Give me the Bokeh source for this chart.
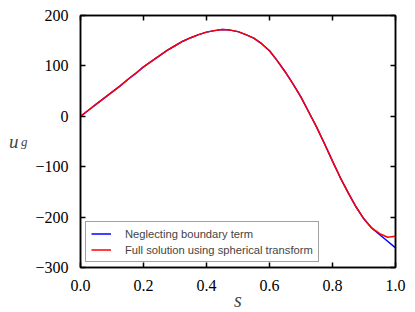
from bokeh.plotting import figure
from bokeh.models import LinearAxis, FixedTicker, Range1d, Legend, LegendItem
from bokeh.embed import file_html
from bokeh.resources import INLINE

s_vals = [0.0, 0.025, 0.05, 0.075, 0.1, 0.125, 0.15, 0.175, 0.2, 0.225,
          0.25, 0.275, 0.3, 0.325, 0.35, 0.375, 0.4, 0.425, 0.45, 0.475,
          0.5, 0.525, 0.55, 0.575, 0.6, 0.625, 0.65, 0.675, 0.7, 0.725,
          0.75, 0.775, 0.8, 0.825, 0.85, 0.875, 0.9, 0.925, 0.95, 0.975, 1.0]
u_neglect = [0, 12, 24, 36, 48, 60, 73, 85, 98, 109,
             120, 131, 140, 149, 156, 162, 167, 170, 172, 171,
             168, 162, 155, 144, 130, 110, 88, 64, 38, 8,
             -22, -55, -89, -122, -152, -180, -204, -222, -235, -248, -261]
u_full = [0, 12, 24, 36, 48, 60, 73, 85, 98, 109,
          120, 131, 140, 149, 156, 162, 167, 170, 172, 171,
          168, 162, 155, 144, 130, 110, 88, 64, 38, 8,
          -22, -55, -89, -122, -152, -180, -204, -222, -233, -240, -238]

x_ticks = [0.0, 0.2, 0.4, 0.6, 0.8, 1.0]
x_tick_labels = ["0.0", "0.2", "0.4", "0.6", "0.8", "1.0"]
y_ticks = [-300, -200, -100, 0, 100, 200]
y_tick_labels = ["\u2212300", "\u2212200", "\u2212100", "0", "100", "200"]

x_label = "s"
y_label_main = "u"
y_label_sub = "g"

series_names = ["Neglecting boundary term", "Full solution using spherical transform"]
series_colors = ["#0000ff", "#ff0000"]

p = figure(frame_width=315, frame_height=252, output_backend="svg",
           toolbar_location=None, x_range=Range1d(0, 1), y_range=Range1d(-300, 200),
           min_border_left=80, min_border_right=20, min_border_top=15, min_border_bottom=44,
           x_axis_location=None, y_axis_location=None)
p.background_fill_color = "white"
p.border_fill_color = "white"
p.outline_line_color = "black"
p.outline_line_width = 1.5
p.grid.visible = False

tick_font = "Liberation Serif"

def style_axis(ax, ticks, labels, show):
    ax.ticker = FixedTicker(ticks=ticks)
    ax.major_label_overrides = {t: l for t, l in zip(ticks, labels)}
    ax.minor_tick_line_color = None
    ax.major_tick_in = 5
    ax.major_tick_out = 0
    ax.major_tick_line_width = 1.5
    ax.axis_line_width = 1.5
    ax.major_label_text_font = tick_font
    ax.major_label_text_font_size = "16px"
    ax.major_label_text_color = "black"
    ax.major_label_standoff = 12
    if not show:
        ax.major_label_text_alpha = 0
        ax.major_label_text_font_size = "1px"
        ax.major_label_standoff = 0

xb = LinearAxis(); style_axis(xb, x_ticks, x_tick_labels, True)
xb.axis_label = x_label
xb.axis_label_text_font = "Liberation Serif"
xb.axis_label_text_font_style = "italic"
xb.axis_label_text_font_size = "20px"
xb.axis_label_standoff = -5

yl = LinearAxis(); style_axis(yl, y_ticks, y_tick_labels, True)
yl.axis_label = y_label_sub
yl.axis_label_orientation = "horizontal"
yl.axis_label_text_font = "Liberation Serif"
yl.axis_label_text_font_style = "italic"
yl.axis_label_text_font_size = "13px"
yl.axis_label_standoff = 5

yu = LinearAxis(ticker=FixedTicker(ticks=[]))
yu.axis_line_color = None
yu.major_tick_line_color = None
yu.minor_tick_line_color = None
yu.major_label_text_alpha = 0
yu.axis_label = y_label_main
yu.axis_label_orientation = "horizontal"
yu.axis_label_text_font = "Liberation Serif"
yu.axis_label_text_font_style = "italic"
yu.axis_label_text_font_size = "19px"
yu.axis_label_text_baseline = "bottom"
yu.axis_label_standoff = -1

xt = LinearAxis(); style_axis(xt, x_ticks, x_tick_labels, False)
yr = LinearAxis(); style_axis(yr, y_ticks, y_tick_labels, False)
p.add_layout(xb, "below")
p.add_layout(yl, "left")
p.add_layout(yu, "left")
p.add_layout(xt, "above")
p.add_layout(yr, "right")

r1 = p.line(s_vals, u_neglect, line_color=series_colors[0], line_width=1.5)
r2 = p.line(s_vals, u_full, line_color=series_colors[1], line_width=1.5)

legend = Legend(items=[LegendItem(label=series_names[0], renderers=[r1]),
                       LegendItem(label=series_names[1], renderers=[r2])],
                location=(5, 5))
legend.label_text_font = "Liberation Sans"
legend.label_text_font_size = "11.2px"
legend.border_line_color = "#444444"
legend.border_line_width = 1
legend.glyph_width = 20
legend.glyph_height = 13
legend.label_height = 13
legend.label_standoff = 14
legend.spacing = 3
legend.padding = 5
legend.margin = 0
p.add_layout(legend)

open("out.html", "w").write(file_html(p, INLINE))
